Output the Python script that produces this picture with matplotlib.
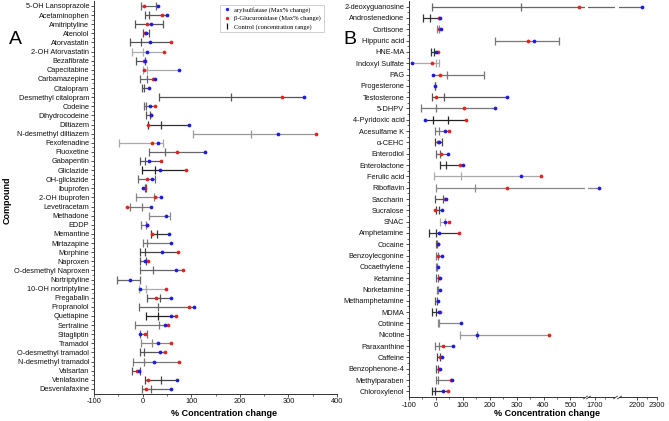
import numpy as np
import matplotlib
matplotlib.use("Agg")
import matplotlib.pyplot as plt
from matplotlib.lines import Line2D
from matplotlib.ticker import FixedLocator

nan = np.nan

# ---------------- Panel A data ----------------
compounds_a = ["5-OH Lansoprazole", "Acetaminophen", "Amitriptyline", "Atenolol", "Atorvastatin",
               "2-OH Atorvastatin", "Bezafibrate", "Capecitabine", "Carbamazepine", "Citalopram",
               "Desmethyl citalopram", "Codeine", "Dihydrocodeine", "Diltiazem", "N-desmethyl diltiazem",
               "Fexofenadine", "Fluoxetine", "Gabapentin", "Gliclazide", "OH-gliclazide", "Ibuprofen",
               "2-OH ibuprofen", "Levetiracetam", "Methadone", "EDDP", "Memantine", "Mirtazapine",
               "Morphine", "Naproxen", "O-desmethyl Naproxen", "Nortriptyline", "10-OH nortriptyline",
               "Pregabalin", "Propranolol", "Quetiapine", "Sertraline", "Sitagliptin", "Tramadol",
               "O-desmethyl tramadol", "N-desmethyl tramadol", "Valsartan", "Venlafaxine", "Desvenlafaxine"]
aryl_a = [32, 50, 17, 7, 15, 9, 5, 75, 25, 13, 333, 16, 18, 96, 279, 32, 128, 13, 36, 19, 1, 37, 18,
          48, 10, 55, 58, 39, 5, 69, -26, -5, 59, 105, 59, 47, -5, 31, 35, 23, -8, 70, 59]
gluc_a = [3, 39, 10, 5, 58, 45, 3, 2, 21, nan, 287, 26, 17, 12, 356, 20, 70, 37, 89, 10, 5, 25, -32,
          nan, 9, 20, nan, 72, 11, 83, nan, 49, 27, 96, 69, 52, 4, 58, 46, 75, -11, 12, 8]
ctrl_low_a = [-3, 5, -15, 1, -25, -21, -14, 1, -5, -1, 33, 3, 7, 12, 104, -49, 14, -6, -1, -9, 5, -13,
              -25, 13, -4, 17, 0, -5, -5, -6, -53, -8, 9, -7, 6, -16, -5, -4, -5, -20, -21, 5, -2]
ctrl_high_a = [27, 13, 43, 13, -4, 1, 5, 10, 10, 2, 181, 7, 15, 38, 224, 43, 46, 4, 25, 25, 7, 24, -1,
               57, 7, 30, 10, 5, 6, 22, -6, 6, 36, 31, 32, 33, 9, 20, 2, 3, -5, 38, 17]

# ---------------- Panel B data ----------------
compounds_b = ["2-deoxyguanosine", "Androstenedione", "Cortisone", "Hippuric acid", "HNE-MA",
               "Indoxyl Sulfate", "PAG", "Progesterone", "Testosterone", "5-DHPV", "4-Pyridoxic acid",
               "Acesulfame K", "\u03b1-CEHC", "Enterodiol", "Enterolactone", "Ferulic acid", "Riboflavin",
               "Saccharin", "Sucralose", "SNAC", "Amphetamine", "Cocaine", "Benzoylecgonine",
               "Cocaethylene", "Ketamine", "Norketamine", "Methamphetamine", "MDMA", "Cotinine",
               "Nicotine", "Paraxanthine", "Caffeine", "Benzophenone-4", "Methylparaben", "Chloroxylenol"]
aryl_b = [2225, 14, 18, 366, 0, -88, -10, -2, 266, 220, -40, 35, 12, 46, 101, 316, 1720, 37, 22, 35,
          10, 9, 22, 9, 15, 14, 9, 10, 94, 151, 65, 24, 15, 58, 26]
gluc_b = [533, 11, 10, 343, 6, -16, 14, nan, 0, 105, 111, 50, 9, 19, 90, 389, 264, 32, -2, 49,
          84, 6, 9, nan, 12, nan, nan, 14, nan, 419, 28, 15, 12, 56, 44]
ctrl_low_b = [-16, -48, 3, 218, -19, 2, 42, -5, -14, -57, -12, -5, -5, 2, 14, -8, -1, -2, 0, 15,
              -25, 0, 0, 0, -1, 5, -2, -14, 6, 88, -5, 5, 2, 2, -16]
ctrl_high_b = [316, -21, 10, 456, -8, 12, 180, -2, 29, 1, 45, 11, 24, 17, 39, 94, 144, 25, 10, 35,
               2, 5, 7, 4, 6, 8, 4, 1, 11, 151, 12, 15, 8, 9, -4]

# line shades (style only)
shades_a = ["#666", "#555", "#555", "#555", "#555", "#aaa", "#555", "#aaa", "#666", "#555",
            "#555", "#666", "#555", "#333", "#999", "#aaa", "#666", "#555", "#222", "#666", "#555",
            "#888", "#777", "#888", "#777", "#333", "#777", "#444", "#555", "#666", "#666", "#aaa",
            "#555", "#666", "#222", "#777", "#666", "#888", "#555", "#777", "#555", "#444", "#666"]
shades_b = ["#666", "#333", "#888", "#777", "#333", "#aaa", "#777", "#555", "#555", "#777", "#222",
            "#777", "#444", "#666", "#333", "#aaa", "#888", "#555", "#444", "#aaa", "#333", "#666",
            "#777", "#777", "#666", "#777", "#555", "#333", "#888", "#999", "#777", "#444", "#555",
            "#777", "#333"]

plt.rcParams["font.family"] = ["Liberation Sans", "DejaVu Sans"]
plt.rcParams["font.size"] = 5.3
plt.rcParams["axes.unicode_minus"] = False

W, H = 669, 421
fig = plt.figure(figsize=(W / 100, H / 100), dpi=100)

BLUE = "#1c1ce6"
RED = "#e32222"


def draw(ax, names, blue, red, lo, hi, shades):
    n = len(names)
    y = np.arange(n)
    for i in range(n):
        vals = [v for v in (blue[i], red[i], lo[i], hi[i]) if not np.isnan(v)]
        ax.hlines(y[i], min(vals), max(vals), color=shades[i], lw=0.9, zorder=2)
        ax.plot([lo[i], hi[i]], [y[i], y[i]], ls="none", marker="|", ms=5.2, mew=0.9,
                color=shades[i], zorder=2)
    ax.plot(red, y, "o", ls="none", color=RED, ms=2.7, mew=0, zorder=3)
    ax.plot(blue, y, "o", ls="none", color=BLUE, ms=2.7, mew=0, zorder=4)
    ax.set_yticks(y)
    ax.set_yticklabels(names)
    ax.yaxis.set_minor_locator(FixedLocator(y[:-1] + 0.5))
    ax.set_ylim(n - 0.5, -0.5)
    for s in ("top", "right"):
        ax.spines[s].set_visible(False)
    for s in ("left", "bottom"):
        ax.spines[s].set_linewidth(0.7)
        ax.spines[s].set_color("#333")
    ax.tick_params(which="major", length=2.2, width=0.6, pad=1.2, colors="#333",
                   labelcolor="#111")
    ax.tick_params(which="minor", length=1.3, width=0.5, colors="#333")


# ---- Panel A ----
axA = fig.add_axes([94 / W, 1 - 393.5 / H, (337 - 94) / W, (393.5 - 1.4) / H])
draw(axA, compounds_a, aryl_a, gluc_a, ctrl_low_a, ctrl_high_a, shades_a)
axA.set_xlim(-100, 400)
axA.set_xticks([-100, 0, 100, 200, 300, 400])
axA.xaxis.set_minor_locator(FixedLocator([-50, 50, 150, 250, 350]))

# ---- Panel B (broken axis) ----
kv = np.array([-100, 554, 1665, 1800, 2110, 2300], dtype=float)
kp = np.array([409, 585, 588, 615, 619, 657], dtype=float)


def fwd(x):
    return np.interp(x, kv, kp)


def inv(p):
    return np.interp(p, kp, kv)


axB = fig.add_axes([409 / W, 1 - 397 / H, (657 - 409) / W, (397 - 1.0) / H])
axB.set_xscale("function", functions=(fwd, inv))
draw(axB, compounds_b, aryl_b, gluc_b, ctrl_low_b, ctrl_high_b, shades_b)
axB.set_xlim(-100, 2300)
axB.set_xticks([-100, 0, 100, 200, 300, 400, 500, 1700, 2200, 2300])
axB.set_xticklabels(["-100", "0", "100", "200", "300", "400", "500", "1700", "2200", "2300"])
axB.xaxis.set_minor_locator(FixedLocator([-50, 50, 150, 250, 350, 450, 1750, 2250]))

# break gaps
for a, b in [(554, 1665), (1800, 2110)]:
    axB.axvspan(a, b, ymin=-0.012, ymax=1, color="white", zorder=6, clip_on=False, lw=0)
    for xv in (a, b):
        axB.plot([xv], [0], transform=axB.get_xaxis_transform(), marker=(2, 0, -55),
                 ms=4, mew=0.6, color="#333", clip_on=False, zorder=7)

# legend
handles = [Line2D([], [], ls="none", marker="o", ms=2.4, mew=0, color=BLUE),
           Line2D([], [], ls="none", marker="o", ms=2.4, mew=0, color=RED),
           Line2D([], [], ls="none", marker="|", ms=5, mew=0.9, color="#111")]
leg = fig.legend(handles, ["arylsulfatase (Max% change)", "\u03b2-Glucuronidase (Max% change)",
                           "Control (concentration range)"],
                 loc="upper left", bbox_to_anchor=(220 / W, 1 - 4.5 / H),
                 prop={"family": ["Liberation Serif", "DejaVu Serif"], "size": 4.7},
                 frameon=True, fancybox=False, borderpad=0.4, labelspacing=0.35,
                 handlelength=1.2, handletextpad=0.6, borderaxespad=0)
leg.get_frame().set_edgecolor("#bbb")
leg.get_frame().set_linewidth(0.6)

# texts
fig.text(15 / W, 1 - 40 / H, "A", fontsize=14, ha="center", va="center")
fig.text(350 / W, 1 - 40 / H, "B", fontsize=14, ha="center", va="center")
fig.text(7 / W, 1 - 200 / H, "Compound", rotation=90, fontsize=6.5, fontweight="bold",
         ha="center", va="center")
fig.text(224 / W, 1 - 413 / H, "% Concentration change", fontsize=6.5, fontweight="bold",
         ha="center", va="center")
fig.text(547 / W, 1 - 414 / H, "% Concentration change", fontsize=6.5, fontweight="bold",
         ha="center", va="center")

fig.savefig("out.png", dpi=100)
